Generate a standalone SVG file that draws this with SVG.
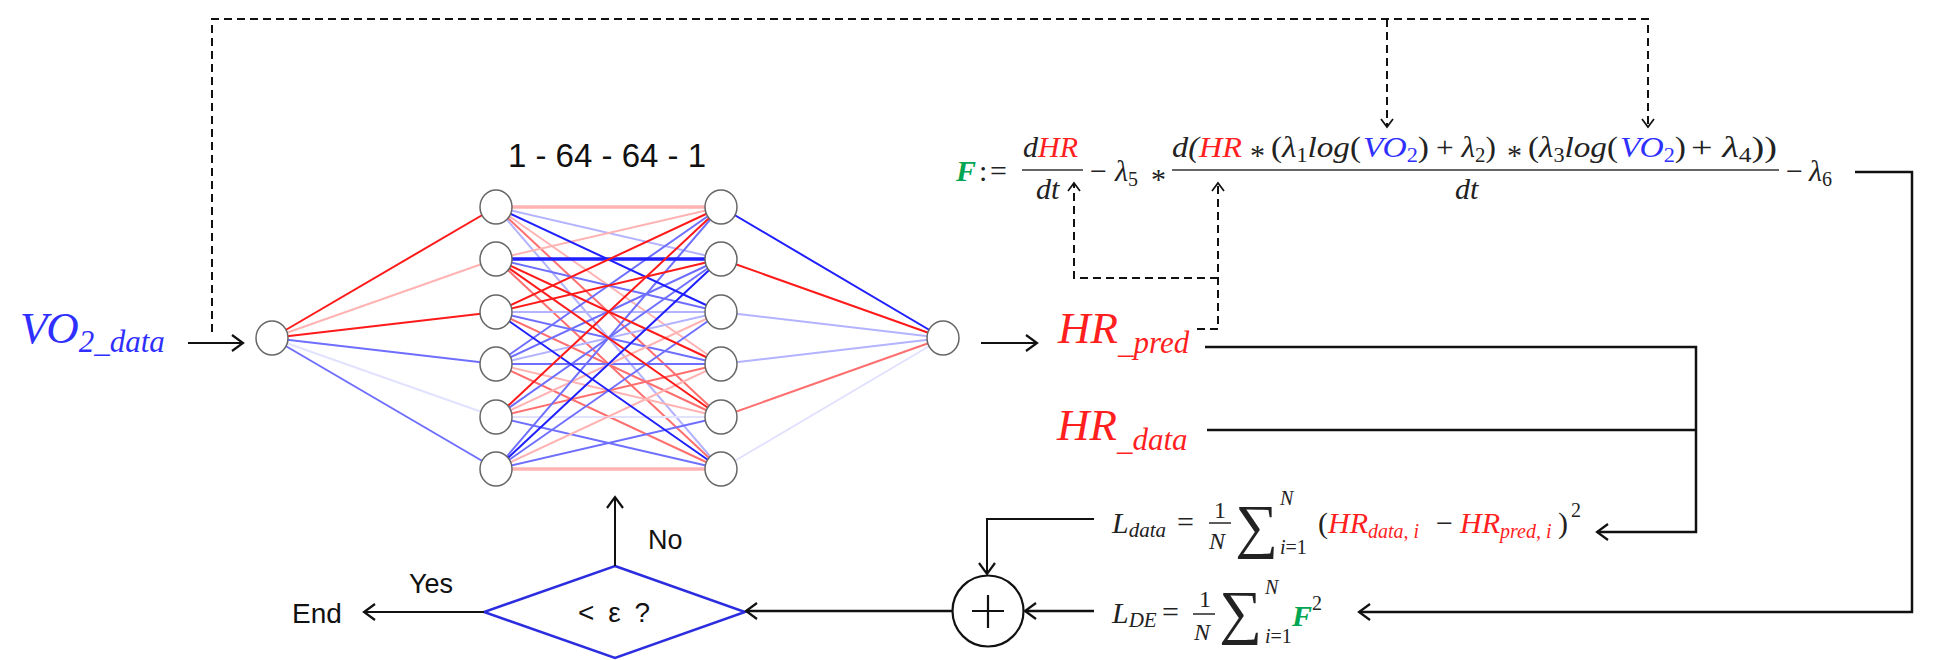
<svg xmlns="http://www.w3.org/2000/svg" width="1933" height="660" viewBox="0 0 1933 660">
  <defs>
    <style>
      .lbl { font-family: "Liberation Sans", Arial, sans-serif; fill: #111; }
      .m { font-family: "Liberation Serif", "Times New Roman", serif; fill: #222; }
      .mi { font-style: italic; }
      .red { fill: #ff1f1f; }
      .blue { fill: #2f2fff; }
      .green { fill: #00a651; font-weight: bold; font-style: italic; }
      .solid { fill: none; stroke: #111; stroke-width: 2.5; }
      .thin { fill: none; stroke: #111; stroke-width: 2; }
      .dash { fill: none; stroke: #111; stroke-width: 2; stroke-dasharray: 8 5; }
      .bar { stroke: #333; stroke-width: 1.6; }
      .node { fill: #fff; stroke: #666; stroke-width: 1.5; }
      .w line { stroke-width: 2; }
      .rs { stroke: #ff1a1a; }
      .rm { stroke: #ff6f6f; }
      .rl { stroke: #ffb3b3; }
      .bs { stroke: #1f1fff; }
      .bm { stroke: #6f6fff; }
      .bl { stroke: #b3b3ff; }
      .bf { stroke: #e2e2ff; }
      .thick { stroke-width: 3.5 !important; }
    </style>
    <marker id="ah" viewBox="-13 -10 15 20" refX="0" refY="0" markerWidth="15" markerHeight="20" markerUnits="userSpaceOnUse" orient="auto">
      <path d="M-11,-8 L0,0 L-11,8" fill="none" stroke="#111" stroke-width="2.2"/>
    </marker>
    <marker id="ahd" viewBox="-10 -8 12 16" refX="0" refY="0" markerWidth="12" markerHeight="16" markerUnits="userSpaceOnUse" orient="auto">
      <path d="M-8,-6 L0,0 L-8,6" fill="none" stroke="#111" stroke-width="1.7"/>
    </marker>
  </defs>

  <rect width="1933" height="660" fill="#fff"/>

  <!-- input label -->
  <g id="vo2-data">
    <text class="m mi blue" x="20" y="343" font-size="45">VO<tspan font-size="31" dy="9">2_data</tspan></text>
  </g>

  <!-- network weights -->
  <g id="weights" class="w">
    <!-- input -> hidden 1 -->
    <line class="rs" x1="272" y1="338" x2="496" y2="207"/>
    <line class="rl" x1="272" y1="338" x2="496" y2="259"/>
    <line class="rs" x1="272" y1="338" x2="496" y2="312"/>
    <line class="bm" x1="272" y1="338" x2="496" y2="364"/>
    <line class="bf" x1="272" y1="338" x2="496" y2="417"/>
    <line class="bm" x1="272" y1="338" x2="496" y2="469"/>
    <!-- hidden 1 -> hidden 2 -->
    <line class="rl thick" x1="496" y1="207" x2="721" y2="207"/>
    <line class="bl" x1="496" y1="207" x2="721" y2="259"/>
    <line class="rl" x1="496" y1="207" x2="721" y2="364"/>
    <line class="rm" x1="496" y1="207" x2="721" y2="417"/>
    <line class="bl" x1="496" y1="207" x2="721" y2="469"/>
    <line class="rl" x1="496" y1="259" x2="721" y2="207"/>
    <line class="bm" x1="496" y1="259" x2="721" y2="312"/>
    <line class="rm" x1="496" y1="259" x2="721" y2="469"/>
    <line class="bl" x1="496" y1="312" x2="721" y2="312"/>
    <line class="bm" x1="496" y1="312" x2="721" y2="364"/>
    <line class="rm" x1="496" y1="312" x2="721" y2="417"/>
    <line class="bm" x1="496" y1="364" x2="721" y2="207"/>
    <line class="bm" x1="496" y1="364" x2="721" y2="259"/>
    <line class="bl" x1="496" y1="364" x2="721" y2="312"/>
    <line class="bm" x1="496" y1="364" x2="721" y2="364"/>
    <line class="rl" x1="496" y1="364" x2="721" y2="417"/>
    <line class="rm" x1="496" y1="364" x2="721" y2="469"/>
    <line class="bm" x1="496" y1="417" x2="721" y2="259"/>
    <line class="rl" x1="496" y1="417" x2="721" y2="312"/>
    <line class="rm" x1="496" y1="417" x2="721" y2="364"/>
    <line class="bf" x1="496" y1="417" x2="721" y2="417"/>
    <line class="bm" x1="496" y1="417" x2="721" y2="469"/>
    <line class="bm" x1="496" y1="469" x2="721" y2="207"/>
    <line class="bm" x1="496" y1="469" x2="721" y2="312"/>
    <line class="rl" x1="496" y1="469" x2="721" y2="364"/>
    <line class="bm" x1="496" y1="469" x2="721" y2="417"/>
    <line class="rl thick" x1="496" y1="469" x2="721" y2="469"/>
    <line class="bs" x1="496" y1="207" x2="721" y2="312"/>
    <line class="bs thick" x1="496" y1="259" x2="721" y2="259"/>
    <line class="rs" x1="496" y1="259" x2="721" y2="364"/>
    <line class="rs" x1="496" y1="259" x2="721" y2="417"/>
    <line class="rs" x1="496" y1="312" x2="721" y2="207"/>
    <line class="rs" x1="496" y1="312" x2="721" y2="259"/>
    <line class="bs" x1="496" y1="312" x2="721" y2="469"/>
    <line class="rs" x1="496" y1="417" x2="721" y2="207"/>
    <line class="bs" x1="496" y1="469" x2="721" y2="259"/>
    <!-- hidden 2 -> output -->
    <line class="bs" x1="721" y1="207" x2="943" y2="338"/>
    <line class="rs" x1="721" y1="259" x2="943" y2="338"/>
    <line class="bl" x1="721" y1="312" x2="943" y2="338"/>
    <line class="bl" x1="721" y1="364" x2="943" y2="338"/>
    <line class="rm" x1="721" y1="417" x2="943" y2="338"/>
    <line class="bf" x1="721" y1="469" x2="943" y2="338"/>
  </g>

  <!-- network neurons -->
  <g id="layer-in"><ellipse class="node" cx="272" cy="338" rx="16" ry="17"/></g>
  <g id="layer-h1">
    <ellipse class="node" cx="496" cy="207" rx="16" ry="17"/>
    <ellipse class="node" cx="496" cy="259" rx="16" ry="17"/>
    <ellipse class="node" cx="496" cy="312" rx="16" ry="17"/>
    <ellipse class="node" cx="496" cy="364" rx="16" ry="17"/>
    <ellipse class="node" cx="496" cy="417" rx="16" ry="17"/>
    <ellipse class="node" cx="496" cy="469" rx="16" ry="17"/>
  </g>
  <g id="layer-h2">
    <ellipse class="node" cx="721" cy="207" rx="16" ry="17"/>
    <ellipse class="node" cx="721" cy="259" rx="16" ry="17"/>
    <ellipse class="node" cx="721" cy="312" rx="16" ry="17"/>
    <ellipse class="node" cx="721" cy="364" rx="16" ry="17"/>
    <ellipse class="node" cx="721" cy="417" rx="16" ry="17"/>
    <ellipse class="node" cx="721" cy="469" rx="16" ry="17"/>
  </g>
  <g id="layer-out"><ellipse class="node" cx="943" cy="338" rx="16" ry="17"/></g>

  <g id="arch-label">
    <text class="lbl" x="607" y="167" font-size="33" text-anchor="middle">1 - 64 - 64 - 1</text>
  </g>

  <!-- network output / data labels -->
  <g id="hr-pred">
    <text class="m mi red" x="1058" y="343" font-size="45">HR<tspan font-size="31" dy="10">_pred</tspan></text>
  </g>
  <g id="hr-data">
    <text class="m mi red" x="1057" y="440" font-size="45">HR<tspan font-size="31" dy="10">_data</tspan></text>
  </g>

  <!-- residual F -->
  <g id="residual-F" class="m" font-size="30">
    <text class="green" x="956" y="181" font-size="30">F</text>
    <text x="979" y="181">:</text>
    <text x="990" y="181">=</text>
    <text class="mi" x="1023" y="157">d<tspan class="red">HR</tspan></text>
    <line class="bar" x1="1022" y1="170" x2="1083" y2="170"/>
    <text class="mi" x="1036" y="199">dt</text>
    <text x="1090" y="181">−</text>
    <text class="mi" x="1115" y="181">λ<tspan font-style="normal" font-size="20" dy="5">5</tspan></text>
    <text x="1151" y="189">*</text>
    <line class="bar" x1="1172" y1="170" x2="1779" y2="170"/>
    <text class="mi" x="1172" y="157" textLength="70" lengthAdjust="spacingAndGlyphs">d(<tspan class="red">HR</tspan></text>
    <text x="1250" y="165">*</text>
    <text x="1271" y="157" textLength="90" lengthAdjust="spacingAndGlyphs">(<tspan class="mi">λ</tspan><tspan font-size="20" dy="5">1</tspan><tspan class="mi" dy="-5">log</tspan>(</text>
    <text x="1363" y="157" textLength="66" lengthAdjust="spacingAndGlyphs"><tspan class="mi blue">VO</tspan><tspan class="blue" font-size="20" dy="5">2</tspan><tspan dy="-5">)</tspan></text>
    <text x="1436" y="157" textLength="60" lengthAdjust="spacingAndGlyphs">+ <tspan class="mi">λ</tspan><tspan font-size="20" dy="5">2</tspan><tspan dy="-5">)</tspan></text>
    <text x="1507" y="165">*</text>
    <text x="1528" y="157" textLength="90" lengthAdjust="spacingAndGlyphs">(<tspan class="mi">λ</tspan><tspan font-size="20" dy="5">3</tspan><tspan class="mi" dy="-5">log</tspan>(</text>
    <text x="1620" y="157" textLength="66" lengthAdjust="spacingAndGlyphs"><tspan class="mi blue">VO</tspan><tspan class="blue" font-size="20" dy="5">2</tspan><tspan dy="-5">)</tspan></text>
    <text x="1691" y="157" textLength="86" lengthAdjust="spacingAndGlyphs">+ <tspan class="mi">λ</tspan><tspan font-size="20" dy="5">4</tspan><tspan dy="-5">))</tspan></text>
    <text class="mi" x="1455" y="199">dt</text>
    <text x="1786" y="181">−</text>
    <text class="mi" x="1809" y="181">λ<tspan font-style="normal" font-size="20" dy="5">6</tspan></text>
  </g>

  <!-- data loss -->
  <g id="loss-data" class="m">
    <text class="mi" x="1112" y="533" font-size="30">L<tspan font-size="21" dy="4">data</tspan></text>
    <text x="1177" y="532" font-size="30">=</text>
    <text x="1214" y="518" font-size="24">1</text>
    <line class="bar" x1="1209" y1="523" x2="1231" y2="523"/>
    <text class="mi" x="1209" y="549" font-size="24">N</text>
    <text x="1235" y="546" font-size="60">∑</text>
    <text class="mi" x="1280" y="505" font-size="20">N</text>
    <text x="1280" y="554" font-size="20"><tspan class="mi">i</tspan>=1</text>
    <text x="1318" y="533" font-size="30">(</text>
    <text class="mi red" x="1328" y="533" font-size="30">HR<tspan font-size="20" dy="5">data, i</tspan></text>
    <text x="1436" y="533" font-size="30">−</text>
    <text class="mi red" x="1460" y="533" font-size="30">HR<tspan font-size="20" dy="5">pred, i</tspan></text>
    <text x="1558" y="533" font-size="30">)</text>
    <text x="1571" y="517" font-size="20">2</text>
  </g>

  <!-- residual loss -->
  <g id="loss-de" class="m">
    <text class="mi" x="1112" y="623" font-size="30">L<tspan font-size="21" dy="4">DE</tspan></text>
    <text x="1162" y="622" font-size="30">=</text>
    <text x="1199" y="607" font-size="24">1</text>
    <line class="bar" x1="1193" y1="614" x2="1215" y2="614"/>
    <text class="mi" x="1194" y="640" font-size="24">N</text>
    <text x="1219" y="632" font-size="60">∑</text>
    <text class="mi" x="1265" y="594" font-size="20">N</text>
    <text x="1265" y="643" font-size="20"><tspan class="mi">i</tspan>=1</text>
    <text class="green" x="1292" y="626" font-size="30">F</text>
    <text x="1312" y="610" font-size="20">2</text>
  </g>

  <!-- summation -->
  <g id="sum">
    <circle cx="988" cy="611" r="35.5" fill="#fff" stroke="#111" stroke-width="2.2"/>
    <path d="M972,611 H1004 M988,595 V628" stroke="#111" stroke-width="2.2" fill="none"/>
  </g>

  <!-- stopping test -->
  <g id="check">
    <path d="M615,566 L745,612 L615,658 L484,612 Z" fill="#fff" stroke="#2d2de0" stroke-width="2.5"/>
    <text class="lbl" x="614" y="622" font-size="28" text-anchor="middle" textLength="72">&lt; ε ?</text>
  </g>

  <g id="labels">
    <text class="lbl" x="648" y="549" font-size="27">No</text>
    <text class="lbl" x="409" y="593" font-size="27">Yes</text>
    <text class="lbl" x="292" y="623" font-size="28">End</text>
  </g>

  <!-- connectors -->
  <g id="connectors">
    <path class="thin" d="M188,343 H243" marker-end="url(#ah)"/>
    <path class="thin" d="M981,343 H1037" marker-end="url(#ah)"/>
    <path class="dash" d="M212,332 V19 H1648 V127" marker-end="url(#ahd)"/>
    <path class="dash" d="M1387,19 V127" marker-end="url(#ahd)"/>
    <path class="dash" d="M1197,329 H1218 V183" marker-end="url(#ahd)"/>
    <path class="dash" d="M1218,278 H1074 V183" marker-end="url(#ahd)"/>
    <path class="solid" d="M1205,347 H1696 V532 H1597" marker-end="url(#ah)"/>
    <path class="solid" d="M1207,430 H1696"/>
    <path class="solid" stroke-width="3" d="M1855,172 H1912 V612 H1359" marker-end="url(#ah)"/>
    <path class="thin" d="M1094,519 H987 V574" marker-end="url(#ah)"/>
    <path class="solid" d="M1094,611 H1025" marker-end="url(#ah)"/>
    <path class="solid" d="M952,611 H746" marker-end="url(#ah)"/>
    <path class="thin" d="M615,566 V497" marker-end="url(#ah)"/>
    <path class="thin" d="M484,612 H364" marker-end="url(#ah)"/>
  </g>
</svg>
